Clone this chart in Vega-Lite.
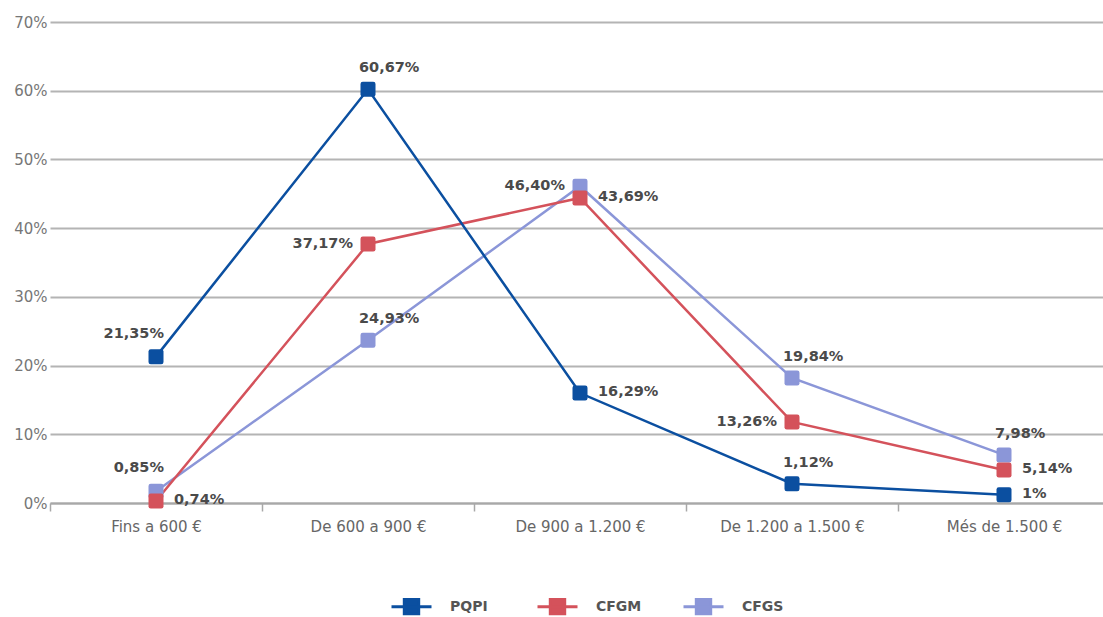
{
  "$schema": "https://vega.github.io/schema/vega-lite/v6.json",
  "width": 1060,
  "height": 481,
  "autosize": "none",
  "padding": {"left": 50, "top": 22, "right": 0, "bottom": 114},
  "background": "#ffffff",
  "config": {
    "view": {"stroke": null},
    "font": "DejaVu Sans"
  },
  "data": {
    "values": [
      {"cat": "Fins a 600 €", "serie": "CFGS", "v": 1.7, "label": "0,85%", "pos": "aboveleft"},
      {"cat": "De 600 a 900 €", "serie": "CFGS", "v": 23.7, "label": "24,93%", "pos": "above"},
      {"cat": "De 900 a 1.200 €", "serie": "CFGS", "v": 46.1, "label": "46,40%", "pos": "left"},
      {"cat": "De 1.200 a 1.500 €", "serie": "CFGS", "v": 18.2, "label": "19,84%", "pos": "above"},
      {"cat": "Més de 1.500 €", "serie": "CFGS", "v": 7.0, "label": "7,98%", "pos": "above"},
      {"cat": "Fins a 600 €", "serie": "CFGM", "v": 0.3, "label": "0,74%", "pos": "right"},
      {"cat": "De 600 a 900 €", "serie": "CFGM", "v": 37.7, "label": "37,17%", "pos": "left"},
      {"cat": "De 900 a 1.200 €", "serie": "CFGM", "v": 44.4, "label": "43,69%", "pos": "right"},
      {"cat": "De 1.200 a 1.500 €", "serie": "CFGM", "v": 11.8, "label": "13,26%", "pos": "left"},
      {"cat": "Més de 1.500 €", "serie": "CFGM", "v": 4.8, "label": "5,14%", "pos": "right"},
      {"cat": "Fins a 600 €", "serie": "PQPI", "v": 21.3, "label": "21,35%", "pos": "aboveleft"},
      {"cat": "De 600 a 900 €", "serie": "PQPI", "v": 60.2, "label": "60,67%", "pos": "above"},
      {"cat": "De 900 a 1.200 €", "serie": "PQPI", "v": 16.0, "label": "16,29%", "pos": "right"},
      {"cat": "De 1.200 a 1.500 €", "serie": "PQPI", "v": 2.8, "label": "1,12%", "pos": "above"},
      {"cat": "Més de 1.500 €", "serie": "PQPI", "v": 1.2, "label": "1%", "pos": "right"}
    ]
  },
  "encoding": {
    "x": {
      "field": "cat",
      "type": "nominal",
      "sort": null,
      "scale": {"paddingInner": 0, "paddingOuter": 0},
      "axis": {
        "title": null,
        "labelAngle": 0,
        "labelFontSize": 15,
        "labelColor": "#666666",
        "labelPadding": 8,
        "tickBand": "extent",
        "tickSize": 8,
        "tickWidth": 1.5,
        "tickColor": "#a8a8a8",
        "domainColor": "#a8a8a8",
        "domainWidth": 2,
        "grid": false
      }
    },
    "y": {
      "field": "v",
      "type": "quantitative",
      "scale": {"domain": [0, 70], "nice": false},
      "axis": {
        "title": null,
        "values": [0, 10, 20, 30, 40, 50, 60, 70],
        "labelExpr": "datum.value + '%'",
        "labelFontSize": 15,
        "labelColor": "#777777",
        "labelPadding": 3,
        "ticks": false,
        "domain": false,
        "grid": true,
        "gridColor": "#b4b4b4",
        "gridWidth": 2
      }
    }
  },
  "layer": [
    {
      "mark": {"type": "line", "strokeWidth": 2.5},
      "encoding": {
        "color": {
          "field": "serie",
          "type": "nominal",
          "scale": {"domain": ["PQPI", "CFGM", "CFGS"], "range": ["#0b4fa0", "#d4525b", "#8b96d8"]},
          "legend": {
            "title": null,
            "orient": "none",
            "legendX": 340,
            "legendY": 563,
            "direction": "horizontal",
            "gridAlign": "all",
            "columnPadding": 35,
            "labelFontSize": 14,
            "labelFontWeight": "bold",
            "labelColor": "#555555",
            "labelOffset": 17,
            "symbolType": "M-1,0H1M-0.36,-0.36H0.36V0.36H-0.36Z",
            "symbolSize": 1600,
            "symbolStrokeWidth": 3,
            "encode": {
              "symbols": {
                "update": {
                  "fill": {"scale": "color", "field": "value"},
                  "stroke": {"scale": "color", "field": "value"},
                  "strokeWidth": {"value": 3}
                }
              }
            }
          }
        },
        "detail": {"field": "serie"}
      }
    },
    {
      "mark": {
        "type": "point",
        "filled": true,
        "opacity": 1,
        "shape": "M-0.7,-1H0.7Q1,-1 1,-0.7V0.7Q1,1 0.7,1H-0.7Q-1,1 -1,0.7V-0.7Q-1,-1 -0.7,-1Z",
        "size": 225
      },
      "encoding": {
        "color": {"field": "serie", "type": "nominal", "legend": null}
      }
    },
    {
      "transform": [{"filter": "datum.pos == 'above'"}],
      "mark": {"type": "text", "align": "left", "baseline": "middle", "dx": -9, "dy": -21, "fontSize": 14.5, "fontWeight": "bold", "color": "#4a4a4a"},
      "encoding": {"text": {"field": "label"}}
    },
    {
      "transform": [{"filter": "datum.pos == 'aboveleft'"}],
      "mark": {"type": "text", "align": "right", "baseline": "middle", "dx": 8, "dy": -23, "fontSize": 14.5, "fontWeight": "bold", "color": "#4a4a4a"},
      "encoding": {"text": {"field": "label"}}
    },
    {
      "transform": [{"filter": "datum.pos == 'right'"}],
      "mark": {"type": "text", "align": "left", "baseline": "middle", "dx": 18, "dy": -1, "fontSize": 14.5, "fontWeight": "bold", "color": "#4a4a4a"},
      "encoding": {"text": {"field": "label"}}
    },
    {
      "transform": [{"filter": "datum.pos == 'left'"}],
      "mark": {"type": "text", "align": "right", "baseline": "middle", "dx": -15, "dy": 0, "fontSize": 14.5, "fontWeight": "bold", "color": "#4a4a4a"},
      "encoding": {"text": {"field": "label"}}
    }
  ]
}
